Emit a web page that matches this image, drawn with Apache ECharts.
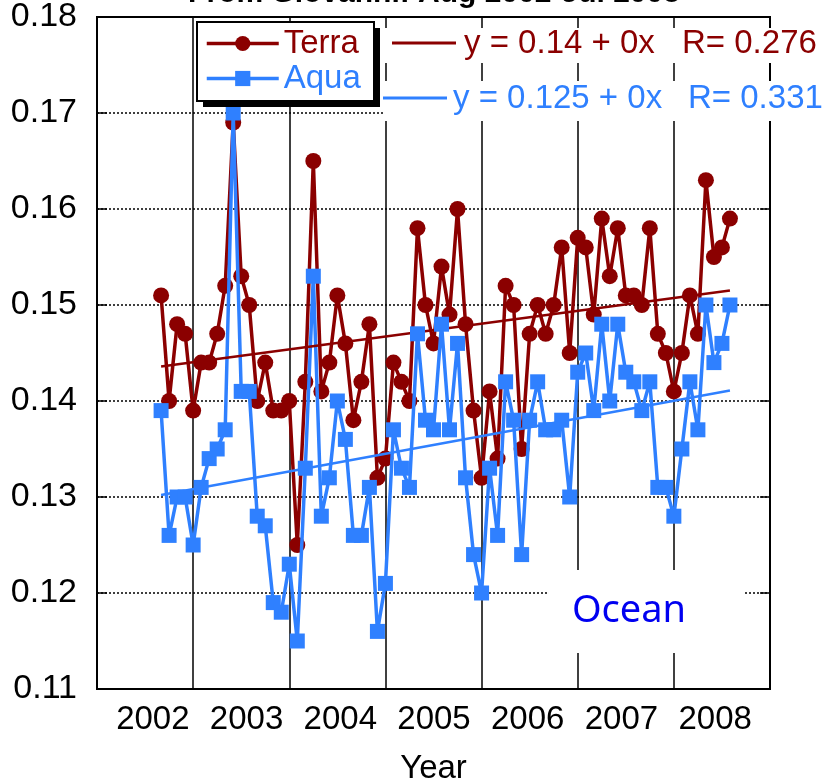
<!DOCTYPE html>
<html>
<head>
<meta charset="utf-8">
<script src="https://cdn.jsdelivr.net/npm/echarts@6/dist/echarts.min.js"></script>
<style>
html,body{margin:0;padding:0;background:#fff;}
#chart{width:833px;height:783px;}
</style>
</head>
<body>
<div id="chart"></div>
<script>
// ---- data ----
const startYear = 2002;
const startMonth = 8; // August
const yearLabels = ['2002','2003','2004','2005','2006','2007','2008'];
const terra = [
  0.151, 0.140, 0.148, 0.147, 0.139,
  0.144, 0.144, 0.147, 0.152, 0.169, 0.153, 0.150, 0.140, 0.144, 0.139, 0.139, 0.140,
  0.125, 0.142, 0.165, 0.141, 0.144, 0.151, 0.146, 0.138, 0.142, 0.148, 0.132, 0.134,
  0.144, 0.142, 0.140, 0.158, 0.150, 0.146, 0.154, 0.149, 0.160, 0.148, 0.139, 0.132,
  0.141, 0.134, 0.152, 0.150, 0.135, 0.147, 0.150, 0.147, 0.150, 0.156, 0.145, 0.157,
  0.156, 0.149, 0.159, 0.153, 0.158, 0.151, 0.151, 0.150, 0.158, 0.147, 0.145, 0.141,
  0.145, 0.151, 0.147, 0.163, 0.155, 0.156, 0.159
];
const aqua = [
  0.139, 0.126, 0.130, 0.130, 0.125,
  0.131, 0.134, 0.135, 0.137, 0.170, 0.141, 0.141, 0.128, 0.127, 0.119, 0.118, 0.123,
  0.115, 0.133, 0.153, 0.128, 0.132, 0.140, 0.136, 0.126, 0.126, 0.131, 0.116, 0.121,
  0.137, 0.133, 0.131, 0.147, 0.138, 0.137, 0.148, 0.137, 0.146, 0.132, 0.124, 0.120,
  0.133, 0.126, 0.142, 0.138, 0.124, 0.138, 0.142, 0.137, 0.137, 0.138, 0.130, 0.143,
  0.145, 0.139, 0.148, 0.140, 0.148, 0.143, 0.142, 0.139, 0.142, 0.131, 0.131, 0.128,
  0.135, 0.142, 0.137, 0.150, 0.144, 0.146, 0.150
];
const terraTrend = [0.1436, 0.1515];
const aquaTrend = [0.1302, 0.1411];
const terraEq = 'y = 0.14 + 0x', terraR = 'R= 0.276';
const aquaEq = 'y = 0.125 + 0x', aquaR = 'R= 0.331';
const titleText = 'From Giovanni: Aug 2002-Jul 2008';

// ---- build ----
const TERRA = '#8B0000', AQUA = '#2F80FF';
const xs = terra.map((_, i) => startYear + (startMonth + i) / 12);
const terraData = terra.map((v, i) => [xs[i], v]);
const aquaData = aqua.map((v, i) => [xs[i], v]);
const xFirst = xs[0], xLast = xs[xs.length - 1];

const chart = echarts.init(document.getElementById('chart'), null, {renderer: 'canvas'});
const FONT = 'Liberation Sans, Arial, Helvetica, sans-serif';

chart.setOption({
  animation: false,
  backgroundColor: '#fff',
  textStyle: {fontFamily: FONT},
  grid: [
    {left: 97, top: 17, width: 673, height: 672, containLabel: false, outerBoundsMode: 'none',
      show: true, borderColor: '#000', borderWidth: 2, backgroundColor: '#fff'},
    {left: 106, top: 17, width: 656, height: 672, containLabel: false, outerBoundsMode: 'none', show: false}
  ],
  legend: {
    data: [
      {name: 'Terra', textStyle: {color: TERRA}},
      {name: 'Aqua', textStyle: {color: AQUA}}
    ],
    orient: 'vertical',
    left: 197, top: 22,
    padding: [5, 10, 5, 8],
    itemGap: 2,
    itemWidth: 72, itemHeight: 19,
    lineStyle: {width: 3.5},
    textStyle: {fontSize: 33, fontFamily: FONT},
    backgroundColor: 'transparent',
    borderWidth: 0,
    z: 6
  },
  xAxis: [
    {
      gridIndex: 0, type: 'value', min: 2002, max: 2009, interval: 1,
      axisLabel: {show: false}, axisTick: {show: false},
      axisLine: {show: true, lineStyle: {color: '#000', width: 2}},
      splitLine: {show: true, lineStyle: {color: '#000', width: 1.5, type: 'solid'}},
      name: 'Year', nameLocation: 'middle', nameGap: 63,
      nameTextStyle: {fontSize: 33, color: '#000', fontFamily: FONT}
    },
    {
      gridIndex: 1, type: 'category', data: yearLabels, boundaryGap: true,
      axisLine: {show: false}, axisTick: {show: false}, splitLine: {show: false},
      axisLabel: {interval: 0, fontSize: 33, color: '#000', margin: 14, fontFamily: FONT}
    }
  ],
  yAxis: [
    {
      gridIndex: 0, type: 'value', min: 0.11, max: 0.18, interval: 0.01,
      axisLabel: {fontSize: 34, color: '#000', margin: 20, fontFamily: FONT, formatter: v => v.toFixed(2)},
      axisLine: {show: true, lineStyle: {color: '#000', width: 2}},
      axisTick: {show: true, inside: true, length: 10, lineStyle: {color: '#000', width: 1.5}},
      splitLine: {show: true, lineStyle: {color: '#000', width: 1.5, type: [2, 2]}}
    },
    {
      gridIndex: 0, type: 'value', min: 0.11, max: 0.18, interval: 0.01, position: 'right',
      axisLabel: {show: false},
      axisLine: {show: true, lineStyle: {color: '#000', width: 2}},
      axisTick: {show: true, inside: true, length: 10, lineStyle: {color: '#000', width: 1.5}},
      splitLine: {show: false}
    },
    {gridIndex: 1, type: 'value', show: false}
  ],
  series: [
    {
      name: 'Terra', type: 'line', xAxisIndex: 0, yAxisIndex: 0, data: terraData,
      symbol: 'circle', symbolSize: 16, color: TERRA,
      itemStyle: {color: TERRA}, lineStyle: {color: TERRA, width: 3.5}, z: 2
    },
    {
      name: 'Aqua', type: 'line', xAxisIndex: 0, yAxisIndex: 0, data: aquaData,
      symbol: 'rect', symbolSize: 15, color: AQUA,
      itemStyle: {color: AQUA}, lineStyle: {color: AQUA, width: 3.5}, z: 3
    },
    {
      name: 'TerraFit', type: 'line', xAxisIndex: 0, yAxisIndex: 0,
      data: [[xFirst, terraTrend[0]], [xLast, terraTrend[1]]],
      symbol: 'none', lineStyle: {color: TERRA, width: 2.5}, z: 3
    },
    {
      name: 'AquaFit', type: 'line', xAxisIndex: 0, yAxisIndex: 0,
      data: [[xFirst, aquaTrend[0]], [xLast, aquaTrend[1]]],
      symbol: 'none', lineStyle: {color: AQUA, width: 2.5}, z: 3
    }
  ],
  graphic: [
    {type: 'text', z: 1, x: 434, y: -6,
      style: {text: titleText, font: 'bold 30px ' + FONT, fill: '#000', textAlign: 'center', textVerticalAlign: 'middle'}},
    // legend box with solid shadow
    {type: 'rect', z: 5, shape: {x: 203, y: 28, width: 177, height: 79}, style: {fill: '#000'}},
    {type: 'rect', z: 5, shape: {x: 197, y: 22, width: 177, height: 79}, style: {fill: '#fff', stroke: '#000', lineWidth: 2}},
    // equation masks
    {type: 'rect', z: 1, shape: {x: 385, y: 28, width: 448, height: 35}, style: {fill: '#fff'}},
    {type: 'rect', z: 1, shape: {x: 383, y: 81, width: 450, height: 40}, style: {fill: '#fff'}},
    {type: 'line', z: 1, shape: {x1: 392, y1: 43, x2: 456, y2: 43}, style: {stroke: TERRA, lineWidth: 3}},
    {type: 'text', z: 1, x: 464, y: 44, style: {text: terraEq, font: '33px ' + FONT, fill: TERRA, textVerticalAlign: 'middle'}},
    {type: 'text', z: 1, x: 682, y: 44, style: {text: terraR, font: '33px ' + FONT, fill: TERRA, textVerticalAlign: 'middle'}},
    {type: 'line', z: 1, shape: {x1: 383, y1: 98, x2: 447, y2: 98}, style: {stroke: AQUA, lineWidth: 3}},
    {type: 'text', z: 1, x: 453, y: 99, style: {text: aquaEq, font: '33px ' + FONT, fill: AQUA, textVerticalAlign: 'middle'}},
    {type: 'text', z: 1, x: 688, y: 99, style: {text: aquaR, font: '33px ' + FONT, fill: AQUA, textVerticalAlign: 'middle'}},
    // Ocean label
    {type: 'rect', z: 1, shape: {x: 547, y: 570, width: 198, height: 83}, style: {fill: '#fff'}},
    {type: 'text', z: 1, x: 629, y: 611, style: {text: 'Ocean', font: '38px Noto Sans, Open Sans, sans-serif', fill: '#0000F0', textAlign: 'center', textVerticalAlign: 'middle'}}
  ]
});
</script>
</body>
</html>
